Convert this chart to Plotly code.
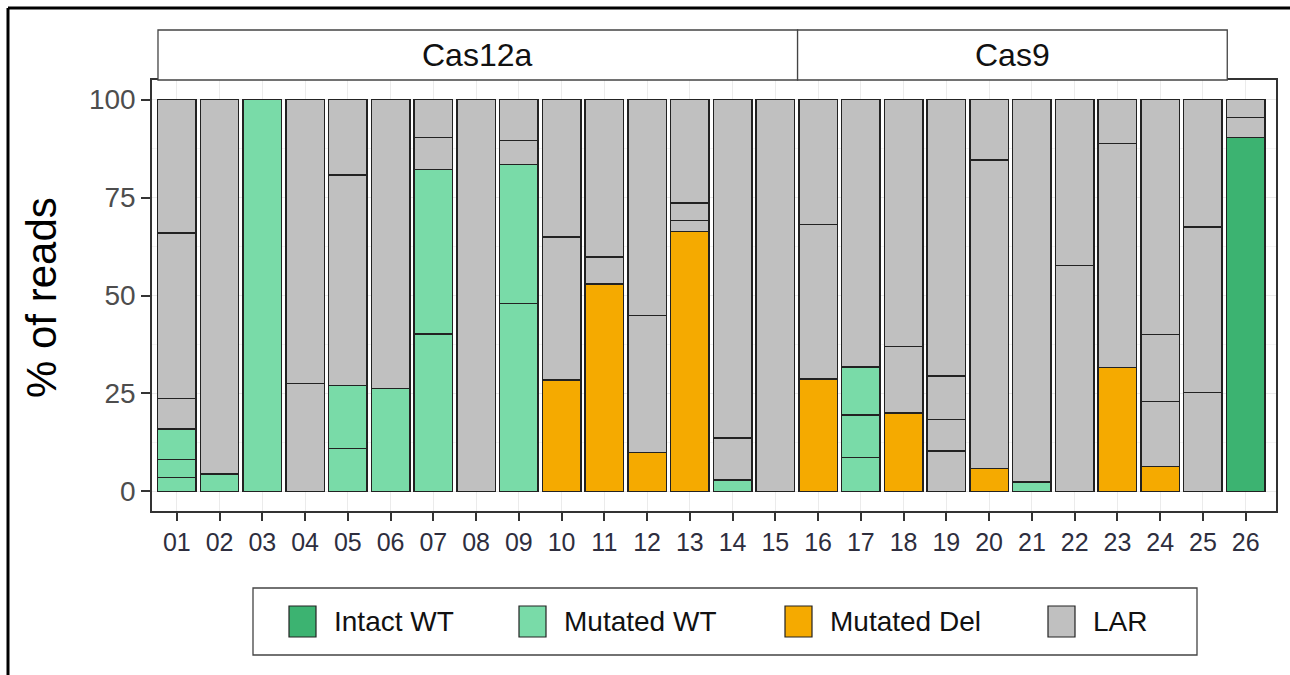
import plotly.graph_objects as go

# ---------------- data ----------------
samples = ["01", "02", "03", "04", "05", "06", "07", "08", "09", "10", "11", "12", "13",
           "14", "15", "16", "17", "18", "19", "20", "21", "22", "23", "24", "25", "26"]

categories = ["Intact WT", "Mutated WT", "Mutated Del", "LAR"]

# segment values (% of reads) per sample, bottom to top within each category
intact_wt = [[], [], [], [], [], [], [], [], [], [], [], [], [],
             [], [], [], [], [], [], [], [], [], [], [], [], [90.4]]

mutated_wt = [[3.6, 4.6, 7.7], [4.4], [100.0], [], [11.0, 16.1], [26.2], [40.2, 42.0], [],
              [48.0, 35.5], [], [], [], [], [2.9], [], [], [8.7, 10.8, 12.3], [], [], [],
              [2.4], [], [], [], [], []]

mutated_del = [[], [], [], [], [], [], [], [], [], [28.4], [52.9], [9.9], [66.3], [], [],
               [28.7], [], [20.0], [], [5.8], [], [], [31.6], [6.3], [], []]

lar = [[7.8, 42.3, 34.0], [95.6], [], [27.6, 72.4], [53.7, 19.2], [73.8], [8.1, 9.7], [100.0],
       [6.1, 10.4], [36.5, 35.1], [6.9, 40.2], [35.0, 55.1], [2.8, 4.5, 26.4], [10.7, 86.4],
       [100.0], [39.4, 31.9], [68.2], [17.0, 63.0], [10.3, 8.1, 11.1, 70.5], [78.8, 15.4],
       [97.6], [57.6, 42.4], [57.2, 11.2], [16.7, 17.1, 59.9], [25.3, 42.2, 32.5], [5.0, 4.6]]

facets = ["Cas12a", "Cas9"]
facet_edges = [(0.56, 15.52), (15.52, 25.57)]

y_ticks = [0, 25, 50, 75, 100]

# ---------------- style ----------------
colors = {"Intact WT": "#3CB371", "Mutated WT": "#79DBA8",
          "Mutated Del": "#F5AA00", "LAR": "#C0C0C0"}
FONT = "Liberation Sans, Arial, sans-serif"

W, H = 1290, 675
L, R, T, B = 152, 14, 80, 164
PW, PH = W - L - R, H - T - B


def px_x(px):
    return (px - L) / PW


def px_y(py):
    return (H - B - py) / PH


fig = go.Figure()
xs = list(range(1, len(samples) + 1))
for cat, seglist in zip(categories, [intact_wt, mutated_wt, mutated_del, lar]):
    K = max(len(s) for s in seglist)
    for k in range(K):
        y = [s[k] if len(s) > k else None for s in seglist]
        fig.add_trace(go.Bar(
            x=xs, y=y, width=0.9, name=cat, showlegend=False,
            marker=dict(color=colors[cat], line=dict(color="#222222", width=1.4)),
        ))

shapes = []
annotations = []

# facet strips
for name, (a, b) in zip(facets, facet_edges):
    shapes.append(dict(type="rect", xref="x", yref="paper", x0=a, x1=b,
                       y0=px_y(80), y1=px_y(30), fillcolor="white",
                       line=dict(color="#444444", width=1.3), layer="above"))
    annotations.append(dict(xref="x", yref="paper", x=(a + b) / 2, y=px_y(55),
                            xanchor="center", yanchor="middle",
                            text=name, showarrow=False,
                            font=dict(family=FONT, size=32, color="#111111")))

# y axis title
annotations.append(dict(xref="paper", yref="paper", x=px_x(41), y=px_y(298),
                        xanchor="center", yanchor="middle",
                        text="% of reads", textangle=-90, showarrow=False,
                        font=dict(family=FONT, size=42, color="#000000")))

# legend (manual, ggplot-like keys)
shapes.append(dict(type="rect", xref="paper", yref="paper",
                   x0=px_x(253), x1=px_x(1197), y0=px_y(655), y1=px_y(588),
                   line=dict(color="#444444", width=1.3), fillcolor="white"))
key_px = [289, 519, 785, 1048]
for cat, kx in zip(categories, key_px):
    shapes.append(dict(type="rect", xref="paper", yref="paper",
                       x0=px_x(kx), x1=px_x(kx + 27), y0=px_y(637), y1=px_y(606),
                       fillcolor=colors[cat], line=dict(color="#222222", width=1.2)))
    annotations.append(dict(xref="paper", yref="paper", x=px_x(kx + 43), y=px_y(621),
                            xanchor="left", yanchor="middle", text=cat, showarrow=False,
                            font=dict(family=FONT, size=28, color="#111111")))

# outer frame (top and left edges only, as in the reference crop)
shapes.append(dict(type="line", xref="paper", yref="paper",
                   x0=px_x(8), x1=px_x(1290), y0=px_y(8), y1=px_y(8),
                   line=dict(color="#000000", width=3)))
shapes.append(dict(type="line", xref="paper", yref="paper",
                   x0=px_x(8), x1=px_x(8), y0=px_y(8), y1=px_y(680),
                   line=dict(color="#000000", width=3)))

fig.update_layout(
    width=W, height=H, margin=dict(l=L, r=R, t=T, b=B, autoexpand=False),
    barmode="stack", bargap=0.1,
    plot_bgcolor="white", paper_bgcolor="white",
    shapes=shapes, annotations=annotations,
    font=dict(family=FONT),
    xaxis=dict(range=[0.42, 26.71], tickvals=xs, ticktext=samples,
               showgrid=True, gridcolor="#EBEBEB", gridwidth=1.2,
               showline=True, mirror=True, linecolor="#333333", linewidth=1.6,
               ticks="outside", ticklen=8, tickwidth=1.6, tickcolor="#333333",
               tickfont=dict(family=FONT, size=25, color="#2E2E3E"), zeroline=False),
    yaxis=dict(range=[-5, 105], tickvals=y_ticks,
               showgrid=True, gridcolor="#EBEBEB", gridwidth=1.2,
               minor=dict(tickvals=[12.5, 37.5, 62.5, 87.5], showgrid=True,
                          gridcolor="#F4F4F4", gridwidth=0.7),
               showline=True, mirror=True, linecolor="#333333", linewidth=1.6,
               ticks="outside", ticklen=9, tickwidth=1.6, tickcolor="#333333",
               tickfont=dict(family=FONT, size=28, color="#4D4D4D"), zeroline=False),
)

fig.write_html("out.html")
